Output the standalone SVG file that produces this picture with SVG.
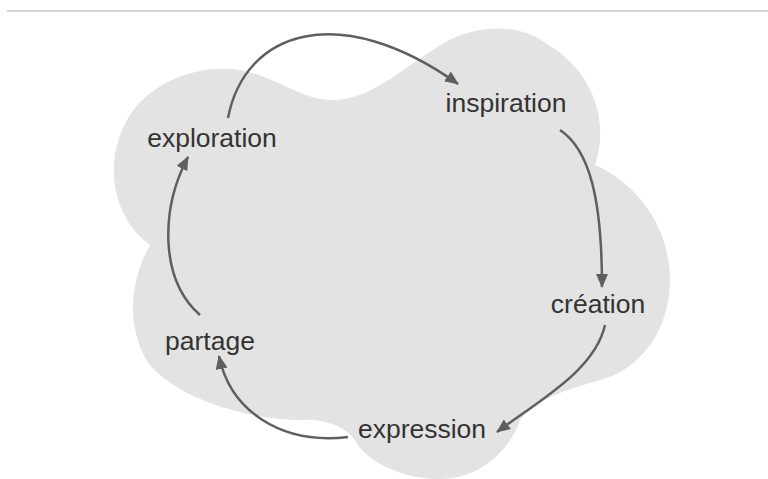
<svg xmlns="http://www.w3.org/2000/svg" width="768" height="479" viewBox="0 0 768 479">
<style>
.lbl{font-family:"Liberation Sans",Arial,sans-serif;font-size:26.5px;fill:#333;text-anchor:middle}
.arc{fill:none;stroke:#5f5f5f;stroke-width:2.5;marker-end:url(#ah)}
</style>
<defs>
<marker id="ah" viewBox="0 0 14 12" refX="13" refY="6" markerWidth="14" markerHeight="12" markerUnits="userSpaceOnUse" orient="auto">
<path d="M0,0 L14,6 L0,12 Z" fill="#5f5f5f"/>
</marker>
</defs>
<rect width="768" height="479" fill="#fff"/>
<line x1="7" y1="11" x2="768" y2="11" stroke="#d4d4d4" stroke-width="2"/>
<g id="cloud">
<path d="M150,245 C108,215 102,150 135,108 C158,80 200,64 240,70 C280,78 300,100 333,100 C370,100 400,70 433,50 C462,28 512,18 547,44 C592,70 610,120 595,165 C640,185 670,230 670,280 C670,330 640,370 600,380 C575,388 540,395 520,420 C510,450 480,479 440,479 C400,479 365,460 355,440 C345,425 320,418 300,420 C250,420 180,400 150,365 C125,330 130,280 150,245 Z" fill="#e3e3e3"/>
</g>
<g id="connectors">
<path class="arc" d="M228,118 C245,30 340,0 458,84"/>
<path class="arc" d="M560,130 C590,150 602,200 602,287"/>
<path class="arc" d="M605,325 C595,370 540,400 497,432"/>
<path class="arc" d="M348,437 C280,445 230,410 219,356"/>
<path class="arc" d="M200,315 C160,280 160,210 188,157"/>
</g>
<g id="exploration"><text class="lbl" x="212" y="147">exploration</text></g>
<g id="inspiration"><text class="lbl" x="506" y="112">inspiration</text></g>
<g id="creation"><text class="lbl" x="598" y="313">création</text></g>
<g id="expression"><text class="lbl" x="422" y="438">expression</text></g>
<g id="partage"><text class="lbl" x="210" y="350">partage</text></g>
</svg>
